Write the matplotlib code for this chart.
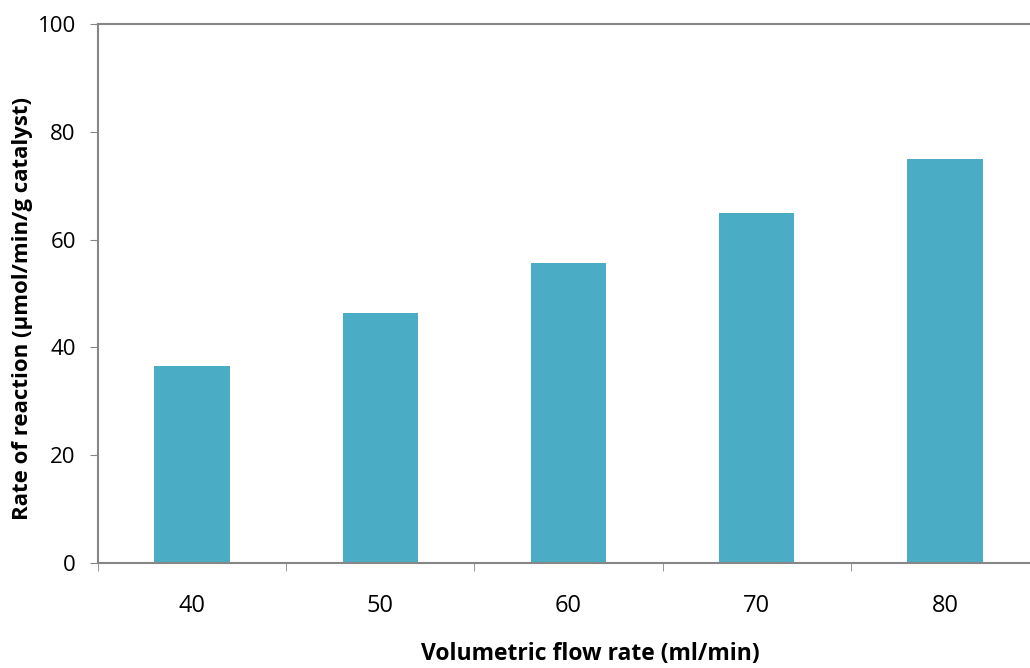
import matplotlib.pyplot as plt
import numpy as np

flow_rates = ["40", "50", "60", "70", "80"]
rates = [36.5, 46.4, 55.6, 64.9, 75.0]

plt.rcParams["font.family"] = ["Open Sans", "DejaVu Sans"]

fig = plt.figure(figsize=(10.30, 6.68), dpi=100)
ax = fig.add_axes([98 / 1030, 105 / 668, 941 / 1030, 539 / 668])

x = np.arange(len(flow_rates))
ax.bar(x, rates, width=0.4, color="#4BACC6")

ax.set_xlim(-0.5, len(flow_rates) - 0.5)
ax.set_ylim(0, 100)
ax.set_yticks(range(0, 101, 20))
ax.set_xticks(x)
ax.set_xticklabels(flow_rates, fontsize=17)
ax.set_xticks(np.arange(-0.5, len(flow_rates)), minor=True)
ax.tick_params(axis="x", which="major", length=0, pad=22)
ax.tick_params(axis="x", which="minor", length=6, color="#868686", direction="out")
ax.tick_params(axis="y", length=6, color="#868686", labelsize=16, pad=10)

for side in ["left", "bottom", "top"]:
    ax.spines[side].set_color("#868686")
    ax.spines[side].set_linewidth(1.5)
ax.spines["right"].set_visible(False)

ax.set_xlabel("Volumetric flow rate (ml/min)", fontsize=16.5, fontweight="bold")
ax.set_ylabel("Rate of reaction (\u00b5mol/min/g catalyst)", fontsize=16, fontweight="bold")
ax.xaxis.set_label_coords(0.523, -0.146)
ax.yaxis.set_label_coords(-0.069, 0.473)

fig.savefig("out.png", dpi=100, facecolor="white")
